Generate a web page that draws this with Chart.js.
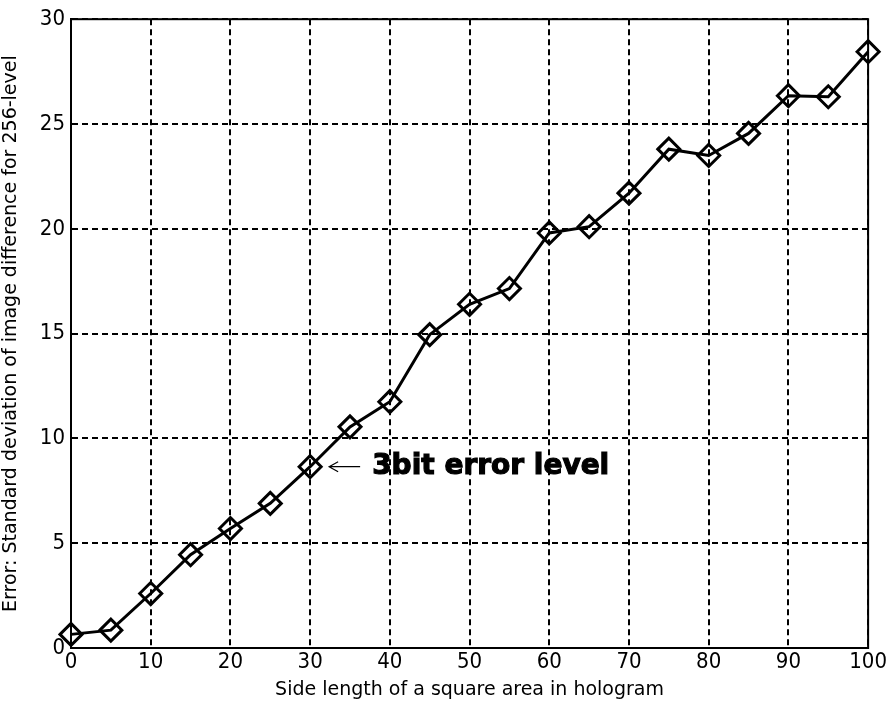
<!DOCTYPE html>
<html>
<head>
<meta charset="utf-8">
<script src="https://cdn.jsdelivr.net/npm/chart.js@4"></script>
<style>
  html, body { margin: 0; padding: 0; background: #fff; }
  #wrap { width: 888px; height: 708px; }
</style>
</head>
<body>
<div id="wrap"><canvas id="errChart"></canvas></div>
<script>
// side length of the square area (x) and std. deviation error (y)
const sideLength = [0, 5, 10, 15, 20, 25, 30, 35, 40, 45, 50, 55, 60, 65, 70, 75, 80, 85, 90, 95, 100];
const errorStd = [0.65, 0.85, 2.6, 4.45, 5.7, 6.9, 8.65, 10.55, 11.75, 14.95, 16.4, 17.15, 19.8, 20.1, 21.7, 23.8, 23.5, 24.55, 26.35, 26.3, 28.45];
const xTicks = [0, 10, 20, 30, 40, 50, 60, 70, 80, 90, 100];
const yTicks = [0, 5, 10, 15, 20, 25, 30];
const noteAt = { x: 30, y: 8.65 };
const noteText = "3bit error level";

const tickFont = { family: "'DejaVu Sans Condensed', sans-serif", size: 22 };
const titleFont = { family: "'DejaVu Sans', sans-serif", size: 19 };

// box round the plot + the note with its arrow
const boxAndNote = {
  id: "boxAndNote",
  afterDatasetsDraw(chart) {
    const { ctx, chartArea: a, scales } = chart;
    ctx.save();
    ctx.strokeStyle = "#000";
    ctx.lineWidth = 2;
    ctx.strokeRect(a.left, a.top, a.right - a.left, a.bottom - a.top);

    const px = scales.x.getPixelForValue(noteAt.x);
    const py = scales.y.getPixelForValue(noteAt.y);
    // arrow
    ctx.lineWidth = 1.2;
    ctx.beginPath();
    ctx.moveTo(px + 50, py);
    ctx.lineTo(px + 19, py);
    ctx.moveTo(px + 28, py - 5);
    ctx.lineTo(px + 19, py);
    ctx.lineTo(px + 28, py + 5);
    ctx.stroke();
    // text (stroked a bit to get the heavy look)
    ctx.fillStyle = "#000";
    ctx.lineWidth = 1.2;
    ctx.font = "bold 28px 'DejaVu Sans', sans-serif";
    ctx.textBaseline = "middle";
    ctx.fillText(noteText, px + 62, py);
    ctx.strokeText(noteText, px + 62, py);
    ctx.restore();
  }
};

new Chart(document.getElementById("errChart"), {
  type: "line",
  data: {
    datasets: [
      {
        data: sideLength.map((x, i) => ({ x: x, y: errorStd[i] })),
        borderColor: "#000",
        borderWidth: 3,
        pointStyle: "rectRot",
        pointRadius: 11,
        pointBorderWidth: 3,
        pointBorderColor: "#000",
        pointBackgroundColor: "rgba(0,0,0,0)",
        tension: 0,
        clip: false,
      },
    ],
  },
  options: {
    responsive: true,
    maintainAspectRatio: false,
    animation: false,
    layout: { padding: { left: 0, top: 17, right: 16, bottom: 0 } },
    plugins: { legend: { display: false }, tooltip: { enabled: false } },
    scales: {
      x: {
        type: "linear",
        min: 0,
        max: 100,
        afterBuildTicks: (s) => { s.ticks = xTicks.map((v) => ({ value: v })); },
        afterFit: (s) => { s.height = 60; },
        grid: { color: "#000", lineWidth: 2, drawTicks: false },
        border: { display: true, color: "#000", width: 2, dash: [6, 4] },
        ticks: { color: "#000", font: tickFont, padding: 1, maxRotation: 0 },
        title: {
          display: true,
          text: "Side length of a square area in hologram",
          color: "#000",
          font: titleFont,
          padding: { top: 0, bottom: 7 },
        },
      },
      y: {
        min: 0,
        max: 30,
        afterBuildTicks: (s) => { s.ticks = yTicks.map((v) => ({ value: v })); },
        afterFit: (s) => { s.width = 71; },
        grid: { color: "#000", lineWidth: 2, drawTicks: false },
        border: { display: true, color: "#000", width: 2, dash: [6, 4] },
        ticks: { color: "#000", font: tickFont, padding: 6 },
        title: {
          display: true,
          text: "Error: Standard deviation of image difference for 256-level",
          color: "#000",
          font: titleFont,
          padding: { top: 0, bottom: 7 },
        },
      },
    },
  },
  plugins: [boxAndNote],
});
</script>
</body>
</html>
